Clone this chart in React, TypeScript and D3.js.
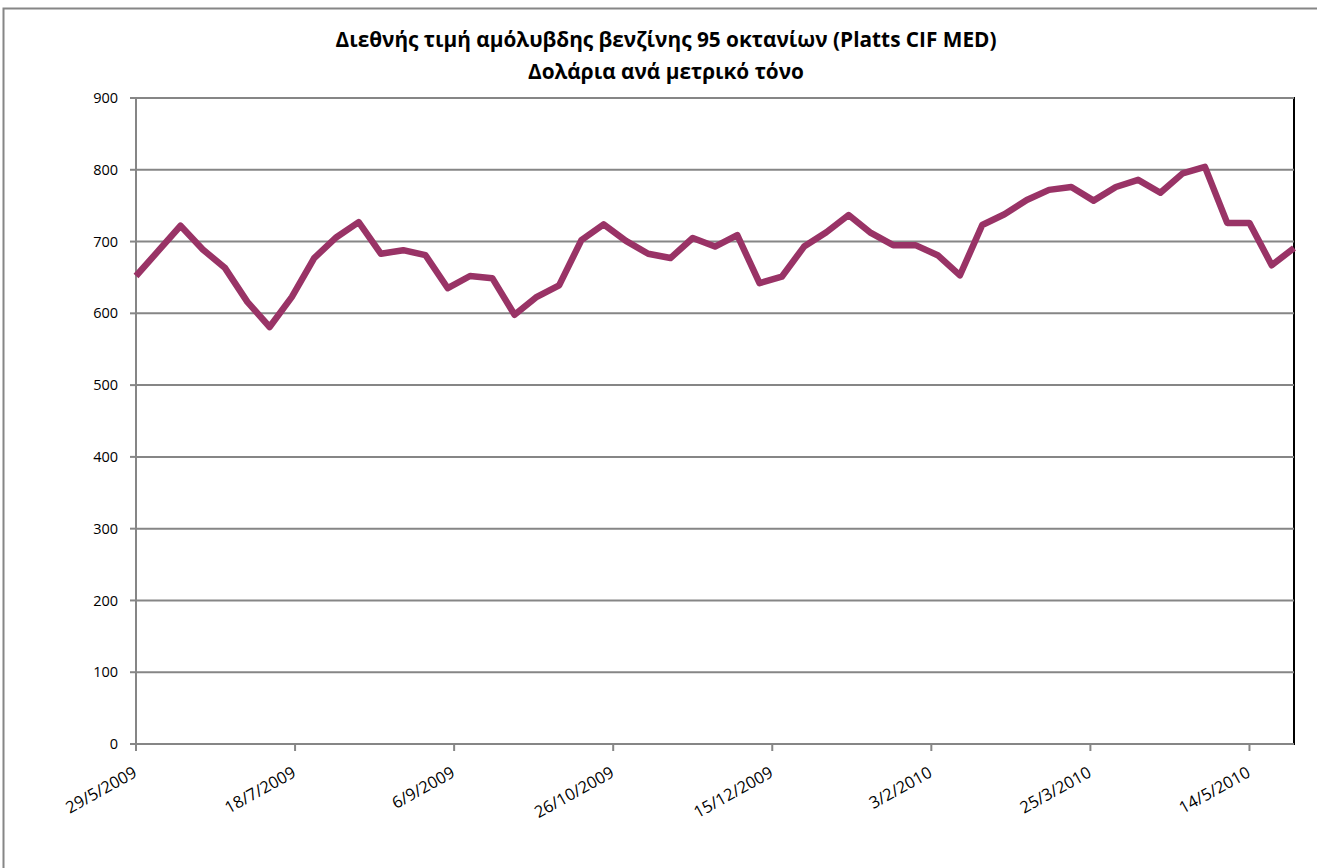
import React from "react";
import * as d3 from "d3";

const startDate = new Date(2009, 4, 29);
const prices: number[] = [
  652, 687, 722, 689, 663, 616, 581, 623, 677, 706, 727, 683, 688, 681, 635, 652,
  649, 598, 623, 639, 702, 724, 701, 683, 677, 705, 693, 709, 642, 651, 693, 713,
  737, 712, 695, 695, 681, 653, 723, 738, 758, 772, 776, 757, 776, 786, 768, 795,
  804, 726, 726, 667, 691,
];
const dates: Date[] = prices.map((_, i) => d3.timeDay.offset(startDate, i * 7));
const tickDates: Date[] = d3.range(0, 8).map((k) => d3.timeDay.offset(startDate, k * 50));
const yTicks: number[] = [0, 100, 200, 300, 400, 500, 600, 700, 800, 900];
const titleLines = [
  "Διεθνής τιμή αμόλυβδης βενζίνης 95 οκτανίων (Platts CIF MED)",
  "Δολάρια ανά μετρικό τόνο",
];

const W = 1317;
const H = 868;
const plot = { left: 136, top: 98, right: 1294, bottom: 744 };
const FONT = "'Open Sans', 'Noto Sans', sans-serif";

export default function App() {
  const x = d3
    .scaleTime()
    .domain([startDate, dates[dates.length - 1]])
    .range([plot.left, plot.right]);
  const y = d3.scaleLinear().domain([0, 900]).range([plot.bottom, plot.top]);
  const line = d3
    .line<number>()
    .x((_, i) => x(dates[i]))
    .y((d) => y(d));
  const fmt = (d: Date) => `${d.getDate()}/${d.getMonth() + 1}/${d.getFullYear()}`;

  return (
    <svg
      width={W}
      height={H}
      style={{ position: "absolute", left: 0, top: 0, background: "#fff" }}
      fontFamily={FONT}
    >
      <rect x={3.5} y={8.5} width={W + 10} height={H + 10} fill="#fff" stroke="#868686" strokeWidth={2} />
      <text x={666} y={47} textAnchor="middle" fontSize={20.8} fontWeight="bold" fill="#000">
        {titleLines[0]}
      </text>
      <text x={666} y={79} textAnchor="middle" fontSize={20.8} fontWeight="bold" fill="#000">
        {titleLines[1]}
      </text>
      {/* plot border */}
      <rect
        x={plot.left}
        y={plot.top}
        width={plot.right - plot.left}
        height={plot.bottom - plot.top}
        fill="none"
        stroke="#000"
        strokeWidth={2}
      />
      {/* gridlines */}
      {yTicks.slice(1).map((t) => (
        <line key={t} x1={plot.left} x2={plot.right} y1={y(t)} y2={y(t)} stroke="#868686" strokeWidth={2} />
      ))}
      {/* y axis */}
      <line x1={plot.left} x2={plot.left} y1={plot.top} y2={plot.bottom} stroke="#868686" strokeWidth={2} />
      {yTicks.map((t) => (
        <g key={t}>
          <line x1={plot.left - 6} x2={plot.left} y1={y(t)} y2={y(t)} stroke="#868686" strokeWidth={2} />
          <text x={plot.left - 18} y={y(t)} dy="0.35em" textAnchor="end" fontSize={14.5} fill="#000">
            {t}
          </text>
        </g>
      ))}
      {/* x axis */}
      <line x1={plot.left} x2={plot.right} y1={plot.bottom} y2={plot.bottom} stroke="#868686" strokeWidth={2} />
      {tickDates.map((d, i) => (
        <g key={i}>
          <line x1={x(d)} x2={x(d)} y1={plot.bottom} y2={plot.bottom + 7} stroke="#868686" strokeWidth={2} />
          <text
            transform={`translate(${x(d) + 2},${plot.bottom + 32}) rotate(-29)`}
            textAnchor="end"
            fontSize={16.5}
            fill="#000"
          >
            {fmt(d)}
          </text>
        </g>
      ))}
      <path
        d={line(prices) || ""}
        fill="none"
        stroke="#993366"
        strokeWidth={6.5}
        strokeLinejoin="round"
        strokeLinecap="butt"
      />
    </svg>
  );
}
